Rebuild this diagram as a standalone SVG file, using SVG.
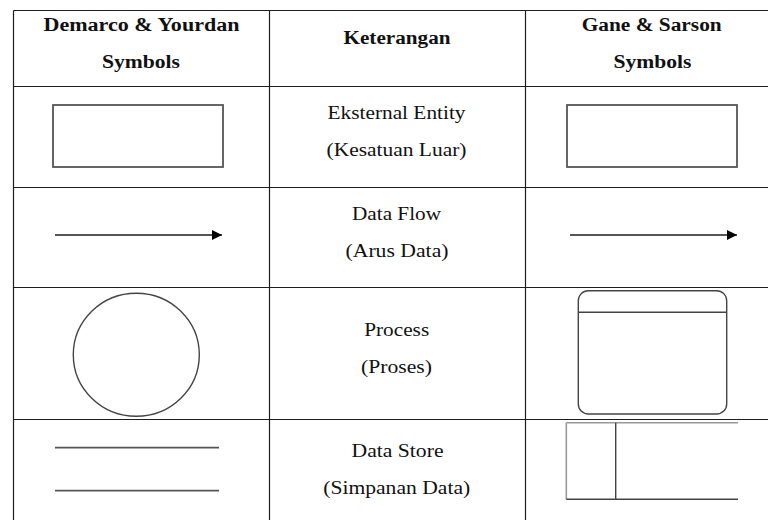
<svg xmlns="http://www.w3.org/2000/svg" width="768" height="520" viewBox="0 0 768 520">
  <style>
    .grid { stroke: #1e1e1e; stroke-width: 1.2; fill: none; }
    .sym { stroke: #555; stroke-width: 1.8; fill: none; }
    .thin { stroke: #444; stroke-width: 1.4; fill: none; }
    .light { stroke: #999; stroke-width: 1.6; fill: none; }
    .t { font-family: 'Liberation Serif', 'Times New Roman', serif; font-size: 18px; fill: #111; text-anchor: middle; }
    .hd { font-weight: bold; }
  </style>
  <defs>
    <marker id="head" viewBox="0 0 10 10" refX="10" refY="5" markerWidth="10" markerHeight="10" markerUnits="userSpaceOnUse" orient="auto">
      <path d="M0,0 L10,5 L0,10 Z" fill="#000"/>
    </marker>
  </defs>
  <rect width="768" height="520" fill="#fff"/>

  <!-- table rules -->
  <g id="table">
    <line class="grid" x1="13.5" y1="10.5" x2="768" y2="10.5"/>
    <line class="grid" x1="13.5" y1="86.5" x2="768" y2="86.5"/>
    <line class="grid" x1="13.5" y1="187.5" x2="768" y2="187.5"/>
    <line class="grid" x1="13.5" y1="287.5" x2="768" y2="287.5"/>
    <line class="grid" x1="13.5" y1="419.5" x2="768" y2="419.5"/>
    <line class="grid" x1="13.5" y1="10.5" x2="13.5" y2="520"/>
    <line class="grid" x1="269.5" y1="10.5" x2="269.5" y2="520"/>
    <line class="grid" x1="525.5" y1="10.5" x2="525.5" y2="520"/>
  </g>

  <!-- header row -->
  <g id="header">
    <text class="t hd" x="141.5" y="31" textLength="196" lengthAdjust="spacingAndGlyphs">Demarco &amp; Yourdan</text>
    <text class="t hd" x="141" y="68" textLength="78" lengthAdjust="spacingAndGlyphs">Symbols</text>
    <text class="t hd" x="397" y="43.5" textLength="107" lengthAdjust="spacingAndGlyphs">Keterangan</text>
    <text class="t hd" x="651.7" y="31" textLength="140" lengthAdjust="spacingAndGlyphs">Gane &amp; Sarson</text>
    <text class="t hd" x="652.5" y="68" textLength="78" lengthAdjust="spacingAndGlyphs">Symbols</text>
  </g>

  <!-- external entity -->
  <g id="entity-dy">
    <rect class="sym" x="53" y="105" width="170" height="62"/>
  </g>
  <g id="entity-label">
    <text class="t" x="396.5" y="118.5" textLength="138" lengthAdjust="spacingAndGlyphs">Eksternal Entity</text>
    <text class="t" x="396.5" y="155.5" textLength="140" lengthAdjust="spacingAndGlyphs">(Kesatuan Luar)</text>
  </g>
  <g id="entity-gs">
    <rect class="sym" x="567" y="105" width="170" height="62"/>
  </g>

  <!-- data flow -->
  <g id="connectors">
    <line class="sym" x1="55" y1="235" x2="222" y2="235" marker-end="url(#head)"/>
    <line class="sym" x1="570" y1="235" x2="737" y2="235" marker-end="url(#head)"/>
  </g>
  <g id="flow-label">
    <text class="t" x="396.5" y="220" textLength="89" lengthAdjust="spacingAndGlyphs">Data Flow</text>
    <text class="t" x="397" y="256.5" textLength="103" lengthAdjust="spacingAndGlyphs">(Arus Data)</text>
  </g>

  <!-- process -->
  <g id="process-dy">
    <ellipse class="thin" cx="136.3" cy="354.7" rx="63" ry="61.5"/>
  </g>
  <g id="process-label">
    <text class="t" x="396.7" y="336" textLength="65" lengthAdjust="spacingAndGlyphs">Process</text>
    <text class="t" x="396.5" y="373" textLength="71" lengthAdjust="spacingAndGlyphs">(Proses)</text>
  </g>
  <g id="process-gs">
    <rect class="thin" x="578.3" y="290.7" width="148.4" height="123.3" rx="10" ry="10"/>
    <line class="thin" x1="578.3" y1="312.3" x2="726.7" y2="312.3"/>
  </g>

  <!-- data store -->
  <g id="store-dy">
    <line class="sym" x1="55" y1="447.7" x2="219" y2="447.7"/>
    <line class="sym" x1="55" y1="490.7" x2="219" y2="490.7"/>
  </g>
  <g id="store-label">
    <text class="t" x="397.5" y="457" textLength="92" lengthAdjust="spacingAndGlyphs">Data Store</text>
    <text class="t" x="396.7" y="493.5" textLength="147" lengthAdjust="spacingAndGlyphs">(Simpanan Data)</text>
  </g>
  <g id="store-gs">
    <line class="light" x1="566.3" y1="422.7" x2="738" y2="422.7"/>
    <line class="light" x1="566.3" y1="422.7" x2="566.3" y2="499.3"/>
    <line class="thin" x1="566.3" y1="499.3" x2="738" y2="499.3"/>
    <line class="thin" x1="615.7" y1="422.7" x2="615.7" y2="499.3"/>
  </g>
</svg>
